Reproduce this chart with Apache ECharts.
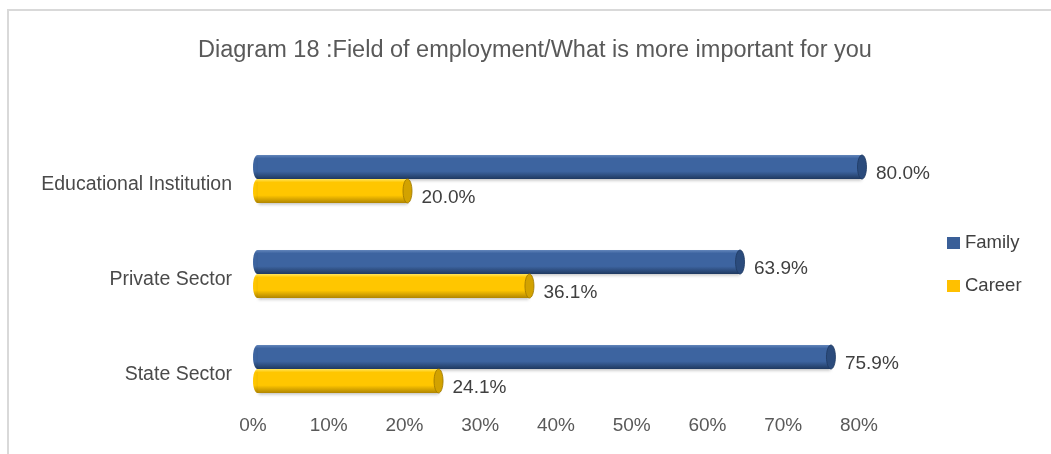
<!DOCTYPE html>
<html>
<head>
<meta charset="utf-8">
<script src="https://cdn.jsdelivr.net/npm/echarts@6/dist/echarts.min.js"></script>
<style>
  html, body { margin: 0; padding: 0; background: #fff; }
  #chart { width: 1051px; height: 454px; }
</style>
</head>
<body>
<div id="chart"></div>
<script>
// Categories listed bottom-to-top along the category axis
const categories = ['State Sector', 'Private Sector', 'Educational Institution'];
const familyValues = [75.9, 63.9, 80.0];
const careerValues = [24.1, 36.1, 20.0];
const tickLabels = ['0%', '10%', '20%', '30%', '40%', '50%', '60%', '70%', '80%'];

const FONT = '"Liberation Sans", Arial, sans-serif';

const palette = {
  Family: { top: '#6386bb', mid: '#3d64a0', bottom: '#1f3960', cap: '#2b4b7c', capStroke: '#1f3a62' },
  Career: { top: '#ffe45a', mid: '#ffc600', bottom: '#b08500', cap: '#d2a200', capStroke: '#9c7600' }
};

// Cylinder-shaped horizontal bar drawn through the axis scales
function cylinder(name, side) {
  const c = palette[name];
  return function (params, api) {
    const val = api.value(0);
    const cat = api.value(1);
    const p0 = api.coord([0, cat]);
    const p1 = api.coord([val, cat]);
    const h = 24;
    const cy = p0[1] + side * h / 2;
    const y = cy - h / 2;
    const rx = 4.5;
    const x0 = p0[0];
    const x1 = p1[0] + 3;
    const grad = new echarts.graphic.LinearGradient(0, 0, 0, 1, [
      { offset: 0, color: c.top },
      { offset: 0.14, color: c.mid },
      { offset: 0.68, color: c.mid },
      { offset: 1, color: c.bottom }
    ]);
    return {
      type: 'group',
      children: [
        {
          type: 'ellipse',
          shape: { cx: x0 + rx, cy: cy, rx: rx, ry: h / 2 },
          style: { fill: grad }
        },
        {
          type: 'rect',
          shape: { x: x0 + rx, y: y, width: Math.max(0, x1 - x0 - rx), height: h },
          style: { fill: grad, shadowBlur: 3, shadowOffsetY: 1.5, shadowColor: 'rgba(0,0,0,0.25)' }
        },
        {
          type: 'ellipse',
          shape: { cx: x1, cy: cy, rx: rx, ry: h / 2 },
          style: { fill: c.cap, stroke: c.capStroke, lineWidth: 0.8 }
        },
        {
          type: 'text',
          x: p1[0] + 17,
          y: cy + 6.5,
          style: {
            text: val.toFixed(1) + '%',
            fill: '#404040',
            font: '19px ' + FONT,
            verticalAlign: 'middle',
            align: 'left'
          }
        }
      ]
    };
  };
}

const chart = echarts.init(document.getElementById('chart'), null, { renderer: 'canvas' });

chart.setOption({
  animation: false,
  backgroundColor: '#ffffff',
  title: {
    text: 'Diagram 18 :Field of employment/What is more important for you',
    left: 193,
    top: 34,
    textStyle: { fontFamily: FONT, fontSize: 23.5, fontWeight: 'normal', color: '#595959' }
  },
  graphic: [{
    type: 'rect',
    shape: { x: 8, y: 10, width: 1200, height: 600 },
    style: { fill: 'none', stroke: '#d9d9d9', lineWidth: 2 },
    silent: true
  }],
  legend: {
    orient: 'vertical',
    left: 942,
    top: 228.5,
    itemWidth: 13,
    itemHeight: 12,
    itemGap: 24,
    icon: 'rect',
    data: ['Family', 'Career'],
    textStyle: { fontFamily: FONT, fontSize: 18.5, color: '#404040' }
  },
  grid: { left: 253, right: 192, top: 131.5, bottom: 37.5, containLabel: false },
  xAxis: {
    type: 'value',
    min: 0,
    max: 80,
    interval: 10,
    axisLine: { show: false },
    axisTick: { show: false },
    splitLine: { show: false },
    axisLabel: {
      margin: 0,
      fontFamily: FONT,
      fontSize: 19,
      color: '#595959',
      formatter: function (v) { return tickLabels[Math.round(v / 10)]; }
    }
  },
  yAxis: {
    type: 'category',
    data: categories,
    axisLine: { show: false },
    axisTick: { show: false },
    axisLabel: {
      margin: 21,
      fontFamily: FONT,
      fontSize: 19.5,
      color: '#4a4a4a',
      verticalAlign: 'top',
      lineHeight: 12
    }
  },
  series: [
    {
      name: 'Family',
      type: 'custom',
      renderItem: cylinder('Family', -1),
      encode: { x: 0, y: 1 },
      itemStyle: { color: '#3a5f98' },
      data: familyValues.map(function (v, i) { return [v, i]; })
    },
    {
      name: 'Career',
      type: 'custom',
      renderItem: cylinder('Career', 1),
      encode: { x: 0, y: 1 },
      itemStyle: { color: '#ffc000' },
      data: careerValues.map(function (v, i) { return [v, i]; })
    }
  ]
});
</script>
</body>
</html>
